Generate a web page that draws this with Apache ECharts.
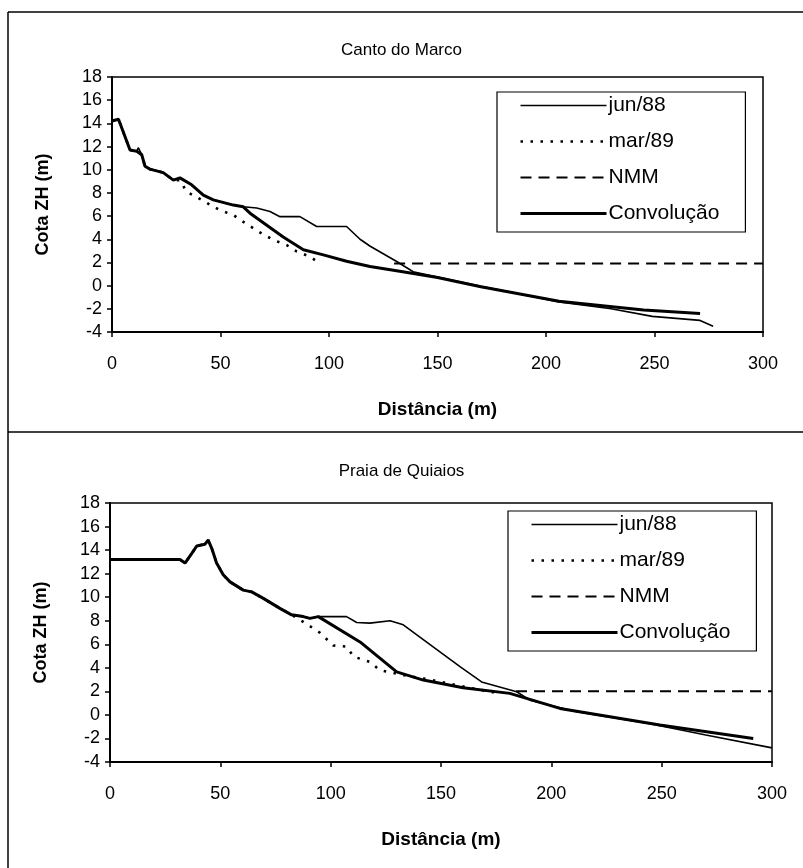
<!DOCTYPE html>
<html>
<head>
<meta charset="utf-8">
<script src="https://cdn.jsdelivr.net/npm/echarts@6/dist/echarts.min.js"></script>
<style>html,body{margin:0;padding:0;background:#fff}#c{width:803px;height:868px}</style>
</head>
<body>
<div id="c"></div>
<script>
// Beach profiles: elevation (Cota ZH, m) against distance (m)
var seriesNames = ['jun/88', 'mar/89', 'NMM', 'Convolução'];
var xTicks = [0, 50, 100, 150, 200, 250, 300];
var yTicks = [-4, -2, 0, 2, 4, 6, 8, 10, 12, 14, 16, 18];

// Canto do Marco
var cantoJun88 = [[0,14.2],[3,14.35],[8.3,11.7],[11.4,11.6],[12.1,11.9],[13.7,11.3],[15.2,10.3],[17.5,10.05],[23.6,9.75],[24.4,9.9],[28.3,9.1],[31.3,9.3],[36.7,8.7],[42.1,7.8],[46.7,7.4],[55.9,6.95],[60.5,6.8],[66.7,6.7],[72.8,6.4],[77.4,5.95],[86.6,5.95],[94.3,5.1],[108.1,5.1],[114.3,4.0],[119,3.4],[131,2.1],[138.8,1.2],[150,0.75],[170,-0.05],[206,-1.4],[230,-2.0],[249,-2.65],[271,-3.0],[277,-3.5]];
var cantoMar89 = [[0,14.2],[3,14.35],[8.3,11.7],[11.4,11.6],[13.7,11.3],[15.2,10.3],[17.5,10.05],[23.6,9.75],[28.3,9.1],[31.3,9.1],[34.4,8.1],[39.8,7.55],[49.8,6.5],[55.9,6.1],[60.5,5.5],[69,4.5],[74.3,3.95],[80.5,3.5],[85.1,2.95],[91.2,2.5],[96,1.9]];
var cantoNMM = [[130,1.9],[300,1.9]];
var cantoConv = [[0,14.2],[3,14.35],[8.3,11.7],[11.4,11.6],[13.7,11.3],[15.2,10.3],[17.5,10.05],[23.6,9.75],[28.3,9.1],[31.3,9.3],[36.7,8.7],[42.1,7.8],[46.7,7.4],[55.9,6.95],[60.5,6.8],[63.6,6.25],[78.9,4.2],[88.2,3.1],[97.4,2.65],[108.1,2.1],[118.9,1.65],[134,1.2],[150,0.7],[170,-0.1],[206,-1.35],[245,-2.1],[271,-2.4]];

// Praia de Quiaios
var quiaiosJun88 = [[0,13.2],[31.7,13.2],[34,12.9],[37,13.7],[39.3,14.35],[43,14.5],[44.5,14.85],[46.1,14.15],[48.3,12.9],[51.3,11.9],[54.4,11.3],[60.4,10.6],[64.2,10.45],[69.5,9.9],[77,9.05],[82.3,8.5],[87.6,8.35],[90.6,8.2],[94.4,8.35],[107.2,8.35],[111.8,7.85],[117.8,7.8],[126.9,8.0],[132.9,7.65],[158.6,4.1],[168.4,2.8],[184.3,1.97],[190.3,1.25],[211.4,0.27],[244.7,-0.75],[270,-1.7],[300,-2.8]];
var quiaiosMar89 = [[0,13.2],[31.7,13.2],[34,12.9],[37,13.7],[39.3,14.35],[43,14.5],[44.5,14.85],[46.1,14.15],[48.3,12.9],[51.3,11.9],[54.4,11.3],[60.4,10.6],[64.2,10.45],[69.5,9.9],[77,9.05],[82.3,8.5],[87.6,7.9],[95,7.0],[101.2,5.9],[107.2,5.8],[110.4,4.95],[117.8,4.5],[122.3,3.8],[135,3.3],[145,3.0],[155,2.6],[166,2.2],[174,1.9]];
var quiaiosNMM = [[184,2.0],[300,2.0]];
var quiaiosConv = [[0,13.2],[31.7,13.2],[34,12.9],[37,13.7],[39.3,14.35],[43,14.5],[44.5,14.85],[46.1,14.15],[48.3,12.9],[51.3,11.9],[54.4,11.3],[60.4,10.6],[64.2,10.45],[69.5,9.9],[77,9.05],[82.3,8.5],[87.6,8.35],[90.6,8.2],[94.4,8.35],[113.3,6.2],[129.9,3.65],[142,2.96],[160,2.3],[181.2,1.83],[203.9,0.55],[249.2,-0.86],[291.5,-2.0]];

var FONT = 'Arial, "Liberation Sans", sans-serif';
var chart = echarts.init(document.getElementById('c'), null, {renderer: 'canvas'});

var styles = {
  'jun/88': {width: 1.6},
  'mar/89': {width: 2.6, type: [2.5, 7.5]},
  'NMM': {width: 2, type: [11, 7]},
  'Convolução': {width: 3}
};

function lineSeries(name, data, idx) {
  return {
    name: name, type: 'line', data: data,
    xAxisIndex: idx, yAxisIndex: idx,
    symbol: 'none', animation: false, silent: true,
    lineStyle: Object.assign({color: '#000'}, styles[name]),
    itemStyle: {color: '#000'},
    z: name === 'Convolução' ? 3 : 2
  };
}

function xAxisDef(idx) {
  return {
    gridIndex: idx, type: 'value', min: xTicks[0], max: xTicks[xTicks.length - 1], interval: 50,
    name: 'Distância (m)', nameLocation: 'middle', nameGap: 68,
    nameTextStyle: {fontFamily: FONT, fontSize: 19, fontWeight: 'bold', color: '#000'},
    axisLine: {show: true, onZero: false, lineStyle: {color: '#000', width: 2}},
    axisTick: {show: true, length: 5, lineStyle: {color: '#000', width: 1.5}},
    axisLabel: {fontFamily: FONT, fontSize: 18, color: '#000', margin: 23},
    splitLine: {show: false}
  };
}
function yAxisDef(idx) {
  return {
    gridIndex: idx, type: 'value', min: yTicks[0], max: yTicks[yTicks.length - 1], interval: 2,
    name: 'Cota ZH (m)', nameLocation: 'middle', nameGap: 60, nameRotate: 90,
    nameTextStyle: {fontFamily: FONT, fontSize: 18, fontWeight: 'bold', color: '#000'},
    axisLine: {show: true, onZero: false, lineStyle: {color: '#000', width: 2}},
    axisTick: {show: true, length: 5, lineStyle: {color: '#000', width: 1.5}},
    axisLabel: {fontFamily: FONT, fontSize: 18, color: '#000', margin: 10},
    splitLine: {show: false}
  };
}
function legendDef(left, top) {
  return {
    show: true, orient: 'vertical', left: left, top: top,
    data: seriesNames.map(function (n) {
      return {name: n, lineStyle: Object.assign({color: '#000'}, styles[n])};
    }),
    selectedMode: false,
    itemWidth: 86, itemHeight: 16, itemGap: 15,
    padding: [3, 26, 8, 22],
    itemStyle: {opacity: 0},
    borderColor: '#000', borderWidth: 1.2, backgroundColor: '#fff',
    textStyle: {fontFamily: FONT, fontSize: 21, color: '#000', padding: [0, 0, 0, -3]}
  };
}

var allSeries = [];
[[cantoJun88, cantoMar89, cantoNMM, cantoConv], [quiaiosJun88, quiaiosMar89, quiaiosNMM, quiaiosConv]].forEach(function (set, g) {
  seriesNames.forEach(function (n, i) {
    allSeries.push(lineSeries(n, set[i], g));
  });
});

chart.setOption({
  animation: false,
  backgroundColor: '#fff',
  title: [
    {text: 'Canto do Marco', left: 'center', top: 37, textStyle: {fontFamily: FONT, fontSize: 17, fontWeight: 'normal', color: '#000'}},
    {text: 'Praia de Quiaios', left: 'center', top: 458, textStyle: {fontFamily: FONT, fontSize: 17, fontWeight: 'normal', color: '#000'}}
  ],
  grid: [
    {left: 112, top: 77, width: 651, height: 255, show: true, borderColor: '#000', borderWidth: 1.5, backgroundColor: 'transparent'},
    {left: 110, top: 503, width: 662, height: 259, show: true, borderColor: '#000', borderWidth: 1.5, backgroundColor: 'transparent'}
  ],
  xAxis: [xAxisDef(0), xAxisDef(1)],
  yAxis: [yAxisDef(0), yAxisDef(1)],
  legend: [legendDef(497, 92), legendDef(508, 511)],
  series: allSeries,
  graphic: [
    {type: 'line', shape: {x1: 8, y1: 12, x2: 8, y2: 868}, style: {stroke: '#000', lineWidth: 1.5}, silent: true},
    {type: 'line', shape: {x1: 8, y1: 12, x2: 803, y2: 12}, style: {stroke: '#000', lineWidth: 1.5}, silent: true},
    {type: 'line', shape: {x1: 8, y1: 432, x2: 803, y2: 432}, style: {stroke: '#000', lineWidth: 1.5}, silent: true}
  ]
});
</script>
</body>
</html>
